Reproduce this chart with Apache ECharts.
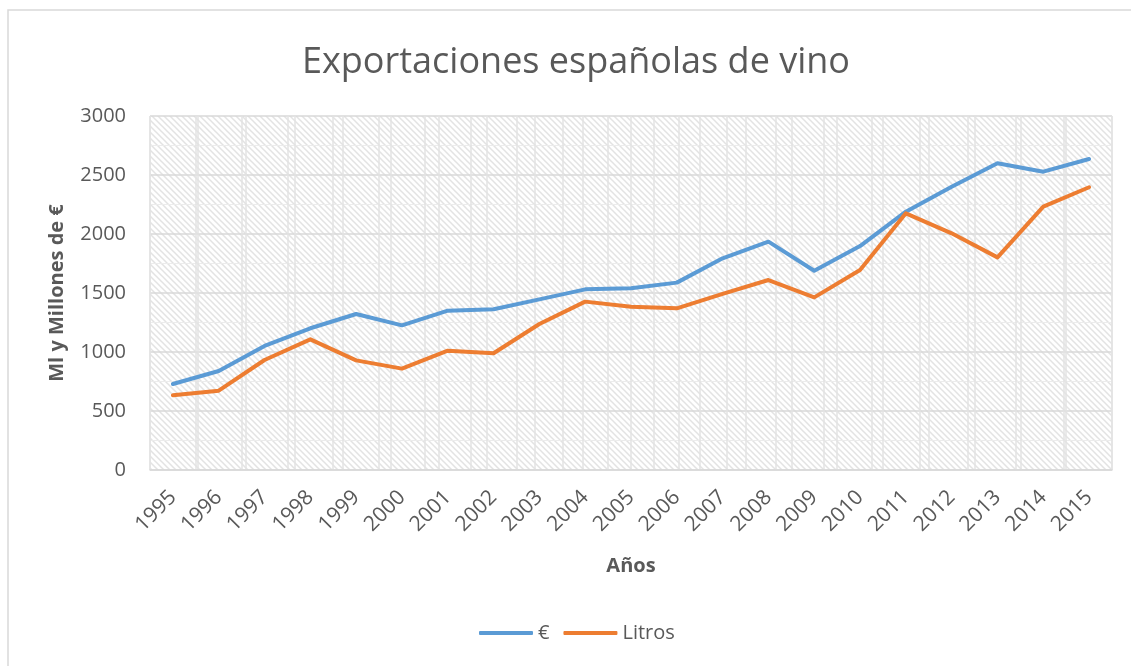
<!DOCTYPE html>
<html>
<head>
<meta charset="utf-8">
<script src="https://cdn.jsdelivr.net/npm/echarts@6/dist/echarts.min.js"></script>
<style>
  html, body { margin: 0; padding: 0; background: #fff; }
  #chart { width: 1131px; height: 666px; }
</style>
</head>
<body>
<div id="chart"></div>
<script>
// datos
const years = ['1995', '1996', '1997', '1998', '1999', '2000', '2001', '2002', '2003', '2004', '2005',
  '2006', '2007', '2008', '2009', '2010', '2011', '2012', '2013', '2014', '2015']
const euros = [729, 839, 1051, 1201, 1322, 1226, 1350, 1362, 1446, 1531, 1540,
  1588, 1794, 1935, 1689, 1898, 2189, 2401, 2599, 2528, 2636]
const litros = [633, 672, 932, 1107, 929, 859, 1011, 989, 1237, 1427, 1384,
  1370, 1492, 1610, 1463, 1695, 2175, 2006, 1802, 2232, 2396]

// trama diagonal del fondo
const tile = document.createElement('canvas')
tile.width = 6
tile.height = 6
const ctx = tile.getContext('2d')
ctx.fillStyle = '#ffffff'
ctx.fillRect(0, 0, 6, 6)
ctx.strokeStyle = '#e3e3e3'
ctx.lineWidth = 1.5
ctx.beginPath()
ctx.moveTo(-1, -1); ctx.lineTo(7, 7)
ctx.moveTo(-4, 2); ctx.lineTo(4, 10)
ctx.moveTo(2, -4); ctx.lineTo(10, 4)
ctx.stroke()

const textColor = '#595959'
const gridColor = '#d9d9d9'
const font = 'Open Sans'

const chart = echarts.init(document.getElementById('chart'))
chart.setOption({
  animation: false,
  title: {
    text: 'Exportaciones españolas de vino',
    left: 297,
    top: 40,
    textStyle: { fontFamily: font, fontSize: 36, fontWeight: 'normal', color: textColor }
  },
  legend: {
    bottom: 18,
    left: 474,
    itemWidth: 54,
    itemHeight: 4,
    itemGap: 14,
    icon: 'roundRect',
    textStyle: { fontFamily: font, fontSize: 20, color: textColor },
    data: ['€', 'Litros']
  },
  graphic: [{
    type: 'rect',
    shape: { x: 8, y: 10, width: 1150, height: 700 },
    style: { fill: 'none', stroke: '#d9d9d9', lineWidth: 1.5 },
    silent: true
  }],
  grid: {
    left: 150, right: 19, top: 116, bottom: 196,
    show: true,
    borderWidth: 0,
    backgroundColor: { image: tile, repeat: 'repeat' }
  },
  xAxis: [{
    type: 'category',
    data: years,
    boundaryGap: true,
    name: 'Años',
    nameLocation: 'middle',
    nameGap: 86,
    nameTextStyle: { fontFamily: font, fontSize: 20, fontWeight: 'bold', color: textColor },
    axisLine: { lineStyle: { color: gridColor, width: 1.5 } },
    axisTick: { show: false },
    axisLabel: { rotate: 45, margin: 24, fontFamily: font, fontSize: 21, color: textColor, interval: 0 },
    splitLine: { show: true, interval: 0, lineStyle: { color: '#e3e3e3', width: 1.5 } }
  }, {
    type: 'category',
    data: years,
    boundaryGap: false,
    position: 'bottom',
    axisLine: { show: false },
    axisTick: { show: false },
    axisLabel: { show: false },
    splitLine: { show: true, interval: 0, lineStyle: { color: '#e3e3e3', width: 1.5 } }
  }],
  yAxis: {
    type: 'value',
    min: 0,
    max: 3000,
    interval: 500,
    name: 'Ml y Millones de €',
    nameLocation: 'middle',
    nameGap: 83,
    nameTextStyle: { fontFamily: font, fontSize: 20, fontWeight: 'bold', color: textColor },
    axisLine: { show: false },
    axisTick: { show: false },
    axisLabel: { margin: 24, fontFamily: font, fontSize: 20, color: textColor, formatter: v => String(v) },
    splitLine: { lineStyle: { color: gridColor, width: 1.5 } },
    minorTick: { show: false, splitNumber: 2 },
    minorSplitLine: { show: true, lineStyle: { color: '#ececec', width: 1 } }
  },
  series: [{
    name: '€',
    type: 'line',
    data: euros,
    showSymbol: false,
    symbol: 'none',
    lineStyle: { color: '#5B9BD5', width: 4, cap: 'round', join: 'round' },
    itemStyle: { color: '#5B9BD5' }
  }, {
    name: 'Litros',
    type: 'line',
    data: litros,
    showSymbol: false,
    symbol: 'none',
    lineStyle: { color: '#ED7D31', width: 4, cap: 'round', join: 'round' },
    itemStyle: { color: '#ED7D31' }
  }]
})
</script>
</body>
</html>
